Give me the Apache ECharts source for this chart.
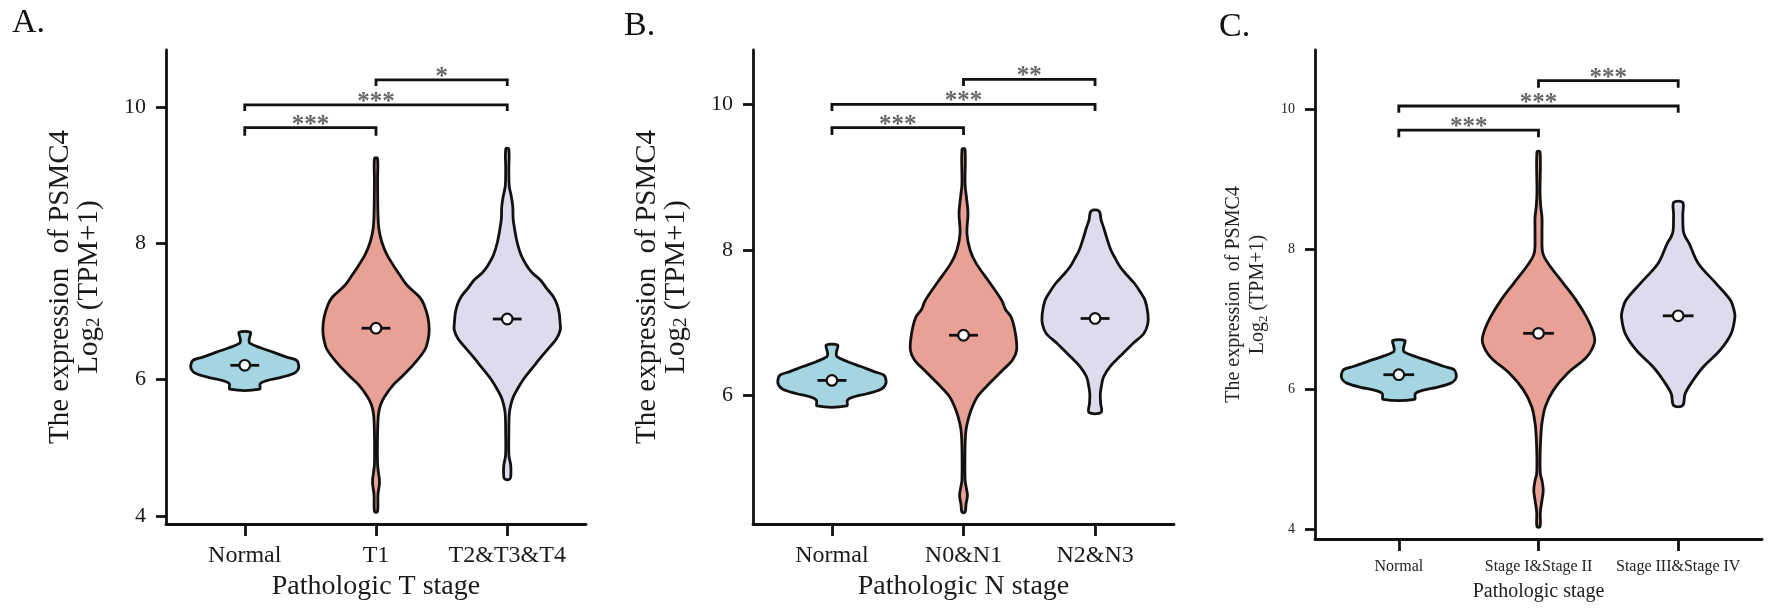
<!DOCTYPE html>
<html><head><meta charset="utf-8">
<script src="https://cdn.jsdelivr.net/npm/echarts@6/dist/echarts.min.js"></script>
<style>html,body{margin:0;padding:0;background:#fff}#c{width:1772px;height:612px}</style>
</head><body><div id="c"></div>
<script>
// ---------------- data ----------------
const panelLabels = ['A.', 'B.', 'C.'];
const categoriesA = ['Normal', 'T1', 'T2&T3&T4'];
const categoriesB = ['Normal', 'N0&N1', 'N2&N3'];
const categoriesC = ['Normal', 'Stage I&Stage II', 'Stage III&Stage IV'];
const xTitles = ['Pathologic T stage', 'Pathologic N stage', 'Pathologic stage'];
const yTicksA = [4, 6, 8, 10];
const yTicksB = [6, 8, 10];
const yTicksC = [4, 6, 8, 10];
const mediansA = [6.21, 6.755, 6.89];
const mediansB = [6.21, 6.83, 7.06];
const mediansC = [6.21, 6.80, 7.05];
// violin outlines: [expression value, half width of density]
const violinNormal = [[5.859,.112],[5.94,.118],[5.986,.168],[6.03,.272],[6.09,.373],[6.147,.406],[6.215,.411],[6.284,.394],[6.33,.32],[6.40,.221],[6.467,.12],[6.535,.038],[6.58,.033],[6.627,.038],[6.696,.043]];
const violinT1 = [[4.06,.011],[4.31,.015],[4.45,.025],[4.53,.026],[4.62,.02],[4.75,.012],[5.12,.011],[5.48,.018],[5.63,.035],[5.75,.065],[5.92,.13],[6.05,.2],[6.23,.29],[6.44,.373],[6.58,.396],[6.73,.405],[6.91,.396],[7.10,.366],[7.21,.333],[7.39,.235],[7.54,.18],[7.67,.135],[7.83,.084],[8.01,.046],[8.20,.023],[8.42,.015],[8.93,.012],[9.25,.011]];
const violinT234 = [[4.54,.02],[4.62,.028],[4.75,.026],[4.88,.013],[5.2,.012],[5.51,.016],[5.65,.03],[5.75,.047],[5.87,.08],[5.995,.12],[6.12,.17],[6.24,.22],[6.36,.27],[6.48,.324],[6.6,.375],[6.73,.404],[6.85,.402],[6.975,.396],[7.1,.38],[7.22,.35],[7.34,.3],[7.46,.254],[7.57,.19],[7.67,.15],[7.83,.105],[8.01,.076],[8.2,.057],[8.36,.045],[8.54,.042],[8.70,.03],[8.84,.015],[9.08,.012],[9.39,.011]];
const violinN01 = [[4.40,.011],[4.52,.02],[4.63,.03],[4.75,.02],[4.84,.012],[5.2,.011],[5.48,.016],[5.62,.028],[5.80,.057],[5.99,.107],[6.17,.198],[6.35,.297],[6.49,.373],[6.63,.404],[6.86,.394],[7.08,.362],[7.18,.32],[7.31,.29],[7.54,.204],[7.82,.095],[8.0,.05],[8.23,.026],[8.5,.034],[8.73,.022],[8.9,.012],[9.386,.011]];
const violinN23 = [[5.77,.046],[5.9,.042],[6.03,.04],[6.15,.05],[6.26,.065],[6.40,.114],[6.54,.19],[6.72,.29],[6.85,.37],[6.98,.40],[7.12,.402],[7.31,.38],[7.42,.345],[7.54,.30],[7.66,.24],[7.77,.19],[7.88,.155],[8.0,.12],[8.16,.09],[8.32,.063],[8.41,.046],[8.535,.03]];
const violinS12 = [[4.04,.011],[4.25,.013],[4.42,.025],[4.56,.034],[4.70,.025],[4.80,.013],[5.1,.012],[5.37,.018],[5.51,.024],[5.75,.048],[5.99,.107],[6.23,.208],[6.46,.344],[6.66,.40],[6.80,.394],[7.03,.344],[7.27,.27],[7.51,.179],[7.80,.068],[7.95,.03],[8.2,.025],[8.45,.025],[8.61,.016],[8.8,.011],[9.39,.011]];
const violinS34 = [[5.77,.032],[5.94,.05],[6.13,.107],[6.32,.179],[6.56,.30],[6.80,.38],[7.03,.406],[7.13,.40],[7.27,.375],[7.51,.272],[7.80,.143],[8.08,.079],[8.18,.05],[8.27,.036],[8.5,.033],[8.668,.032]];
// significance brackets: [group from, group to, bar value, tip value]
const bracketsA = [[1,2,9.70,9.58],[1,3,10.034,9.946],[2,3,10.40,10.313]];
const bracketsB = [[1,2,9.679,9.579],[1,3,10.0,9.908],[2,3,10.343,10.251]];
const bracketsC = [[1,2,9.70,9.596],[1,3,10.043,9.947],[2,3,10.404,10.304]];
const starsA = ['***', '***', '*'];
const starsB = ['***', '***', '**'];
const starsC = ['***', '***', '***'];

// ---------------- chart ----------------
const SERIF = "'Liberation Serif', 'Times New Roman', serif";
const fills = ['#A4D5E0', '#E9A095', '#DDDBEC'];
const INK = '#111';

const panels = [
  { cats: categoriesA, ticks: yTicksA, med: mediansA, vio: [violinNormal, violinT1, violinT234], br: bracketsA, st: starsA,
    grid: { left: 166, top: 50, width: 420, height: 474 }, ymin: 3.88, ymax: 10.84,
    tick: 22, lab: 24, xt: 28, yt: 29, ytLH: 29, sub: 19, col: '#1a1a1a', nameGapX: 49, nameGapY: 62, labelX: 12, labelY: 6 },
  { cats: categoriesB, ticks: yTicksB, med: mediansB, vio: [violinNormal, violinN01, violinN23], br: bracketsB, st: starsB,
    grid: { left: 753, top: 50, width: 421, height: 474 }, ymin: 4.239, ymax: 10.745,
    tick: 22, lab: 24, xt: 28, yt: 29, ytLH: 29, sub: 19, col: '#1a1a1a', nameGapX: 49, nameGapY: 62, labelX: 624, labelY: 9 },
  { cats: categoriesC, ticks: yTicksC, med: mediansC, vio: [violinNormal, violinS12, violinS34], br: bracketsC, st: starsC,
    grid: { left: 1315, top: 50, width: 447, height: 489 }, ymin: 3.866, ymax: 10.842,
    tick: 14, lab: 16, xt: 20, yt: 20, ytLH: 24.5, sub: 13, col: '#222', nameGapX: 43, nameGapY: 45, labelX: 1219, labelY: 10 }
];

const option = {
  animation: false,
  backgroundColor: '#fff',
  title: panels.map((p, i) => ({
    text: panelLabels[i], left: p.labelX, top: p.labelY, padding: 0,
    textStyle: { fontFamily: SERIF, fontWeight: 'normal', fontSize: 34, color: INK }
  })),
  grid: panels.map(p => Object.assign({ outerBoundsMode: 'none', containLabel: false }, p.grid)),
  xAxis: panels.map((p, i) => ({
    type: 'value', gridIndex: i, min: 0.4, max: 3.6,
    name: xTitles[i], nameLocation: 'middle', nameGap: p.nameGapX,
    nameTextStyle: { fontFamily: SERIF, fontSize: p.xt, color: p.col },
    axisLine: { show: true, onZero: false, lineStyle: { color: INK, width: 2.8 } },
    axisTick: { show: true, customValues: [1, 2, 3], length: 12, lineStyle: { color: INK, width: 2.8 } },
    axisLabel: { customValues: [1, 2, 3], margin: 20, fontFamily: SERIF, fontSize: p.lab, color: p.col,
      formatter: v => p.cats[Math.round(v) - 1] },
    splitLine: { show: false }
  })),
  yAxis: panels.map((p, i) => ({
    type: 'value', gridIndex: i, min: p.ymin, max: p.ymax,
    name: '{a|The expression  of PSMC4}\n{a|Log}{s|2}{a| (TPM+1)}',
    nameLocation: 'middle', nameGap: p.nameGapY, nameRotate: 90,
    nameTextStyle: {
      rich: {
        a: { fontFamily: SERIF, fontSize: p.yt, lineHeight: p.ytLH, color: p.col },
        s: { fontFamily: SERIF, fontSize: p.sub, lineHeight: p.sub * 0.8, verticalAlign: 'bottom', color: p.col }
      }
    },
    axisLine: { show: true, onZero: false, lineStyle: { color: INK, width: 2.8 } },
    axisTick: { show: true, customValues: p.ticks, length: 10, lineStyle: { color: INK, width: 2.8 } },
    axisLabel: { customValues: p.ticks, margin: 20, fontFamily: SERIF, fontSize: p.tick, color: p.col },
    splitLine: { show: false }
  })),
  series: []
};

panels.forEach((p, i) => {
  option.series.push({
    type: 'custom', xAxisIndex: i, yAxisIndex: i, z: 2,
    data: p.med.map((m, k) => [k + 1, m]),
    renderItem: (params, api) => {
      const k = params.dataIndex;
      const cx = api.value(0);
      const med = api.value(1);
      const prof = p.vio[k];
      const left = prof.map(([v, w]) => api.coord([cx - w, v]));
      const right = prof.slice().reverse().map(([v, w]) => api.coord([cx + w, v]));
      const c = api.coord([cx, med]);
      const l1 = api.coord([cx - 0.11, med]);
      const l2 = api.coord([cx + 0.11, med]);
      return {
        type: 'group',
        children: [
          { type: 'polygon', shape: { points: left.concat(right), smooth: 0.35 },
            style: { fill: fills[k], stroke: INK, lineWidth: 2.8, lineJoin: 'round' } },
          { type: 'line', shape: { x1: l1[0], y1: l1[1], x2: l2[0], y2: l2[1] },
            style: { stroke: INK, lineWidth: 2.8 } },
          { type: 'circle', shape: { cx: c[0], cy: c[1], r: 5.3 },
            style: { fill: '#fff', stroke: INK, lineWidth: 2.2 } }
        ]
      };
    }
  });
  option.series.push({
    type: 'custom', xAxisIndex: i, yAxisIndex: i, z: 3,
    data: p.br,
    renderItem: (params, api) => {
      const k = params.dataIndex;
      const x1 = api.value(0), x2 = api.value(1), y = api.value(2), tip = api.value(3);
      const a = api.coord([x1, tip]), b = api.coord([x1, y]), c = api.coord([x2, y]), d = api.coord([x2, tip]);
      return {
        type: 'group',
        children: [
          { type: 'polyline', shape: { points: [a, b, c, d] },
            style: { fill: null, stroke: INK, lineWidth: 2.8 } },
          { type: 'text', x: (b[0] + c[0]) / 2, y: b[1] - 2.5,
            style: { text: p.st[k], fontFamily: SERIF, fontWeight: 'bold', fontSize: 25, fill: '#666', align: 'center', verticalAlign: 'middle' } }
        ]
      };
    }
  });
});

const chart = echarts.init(document.getElementById('c'), null, { renderer: 'canvas' });
chart.setOption(option);
</script>
</body></html>
